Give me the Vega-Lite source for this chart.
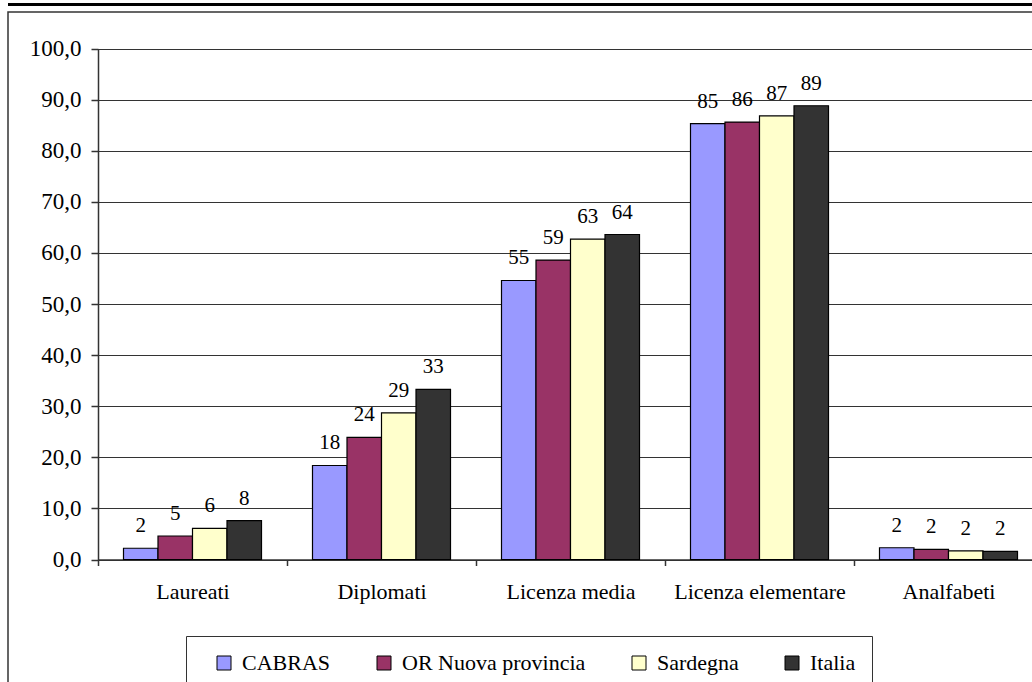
{
  "$schema": "https://vega.github.io/schema/vega-lite/v6.json",
  "width": 1044,
  "height": 690,
  "autosize": {"type": "none"},
  "padding": {"left": 8, "top": 12, "right": -20, "bottom": -20},
  "background": "white",
  "config": {
    "font": "Liberation Serif",
    "view": {"stroke": "#333", "strokeWidth": 1.5},
    "axis": {"labelFont": "Liberation Serif"},
    "legend": {"labelFont": "Liberation Serif"},
    "text": {"font": "Liberation Serif"}
  },
  "data": {
    "values": [
      {"livello": "Laureati", "area": "CABRAS", "valore": 2.2},
      {"livello": "Laureati", "area": "OR Nuova provincia", "valore": 4.6},
      {"livello": "Laureati", "area": "Sardegna", "valore": 6.1},
      {"livello": "Laureati", "area": "Italia", "valore": 7.6},
      {"livello": "Diplomati", "area": "CABRAS", "valore": 18.4},
      {"livello": "Diplomati", "area": "OR Nuova provincia", "valore": 23.9},
      {"livello": "Diplomati", "area": "Sardegna", "valore": 28.7},
      {"livello": "Diplomati", "area": "Italia", "valore": 33.3},
      {"livello": "Licenza media", "area": "CABRAS", "valore": 54.6},
      {"livello": "Licenza media", "area": "OR Nuova provincia", "valore": 58.6},
      {"livello": "Licenza media", "area": "Sardegna", "valore": 62.7},
      {"livello": "Licenza media", "area": "Italia", "valore": 63.6},
      {"livello": "Licenza elementare", "area": "CABRAS", "valore": 85.3},
      {"livello": "Licenza elementare", "area": "OR Nuova provincia", "valore": 85.6},
      {"livello": "Licenza elementare", "area": "Sardegna", "valore": 86.8},
      {"livello": "Licenza elementare", "area": "Italia", "valore": 88.8},
      {"livello": "Analfabeti", "area": "CABRAS", "valore": 2.3},
      {"livello": "Analfabeti", "area": "OR Nuova provincia", "valore": 2.0},
      {"livello": "Analfabeti", "area": "Sardegna", "valore": 1.7},
      {"livello": "Analfabeti", "area": "Italia", "valore": 1.6}
    ]
  },
  "encoding": {
    "x": {
      "field": "livello",
      "type": "nominal",
      "sort": ["Laureati", "Diplomati", "Licenza media", "Licenza elementare", "Analfabeti"],
      "scale": {"range": [90, 1035], "paddingInner": 0, "paddingOuter": 0},
      "axis": {
        "orient": "bottom",
        "offset": -142.5,
        "title": null,
        "grid": false,
        "labelAngle": 0,
        "labelFont": "Liberation Serif",
        "labelFontSize": 22,
        "labelColor": "#000",
        "labelPadding": 16,
        "labelLimit": 300,
        "tickSize": 6,
        "tickBand": "extent",
        "tickColor": "#333",
        "tickWidth": 1.5,
        "domainColor": "#333",
        "domainWidth": 1.5
      }
    },
    "xOffset": {
      "field": "area",
      "type": "nominal",
      "sort": ["CABRAS", "OR Nuova provincia", "Sardegna", "Italia"],
      "scale": {"paddingInner": 0, "paddingOuter": 0.739}
    },
    "y": {
      "field": "valore",
      "type": "quantitative",
      "scale": {"domain": [0, 100], "range": [547.5, 36.5], "nice": false, "zero": true},
      "axis": {
        "offset": -90,
        "title": null,
        "values": [0, 10, 20, 30, 40, 50, 60, 70, 80, 90, 100],
        "labelExpr": "replace(format(datum.value, '.1f'), '.', ',')",
        "labelFont": "Liberation Serif",
        "labelFontSize": 23,
        "labelColor": "#000",
        "labelPadding": 10,
        "tickSize": 7,
        "tickColor": "#333",
        "tickWidth": 1.5,
        "domainColor": "#333",
        "domainWidth": 1.5,
        "grid": true,
        "gridColor": "#333",
        "gridWidth": 1
      }
    }
  },
  "layer": [
    {
      "mark": {"type": "bar", "stroke": "#000", "strokeWidth": 1.2},
      "encoding": {
        "color": {
          "field": "area",
          "type": "nominal",
          "scale": {
            "domain": ["CABRAS", "OR Nuova provincia", "Sardegna", "Italia"],
            "range": ["#9999FF", "#993366", "#FFFFCC", "#333333"]
          },
          "legend": {
            "title": null,
            "orient": "none",
            "legendX": 178,
            "legendY": 624,
            "direction": "horizontal",
            "strokeColor": "#333",
            "fillColor": "white",
            "padding": 16,
            "symbolType": "square",
            "symbolSize": 196,
            "symbolStrokeColor": "#000",
            "symbolStrokeWidth": 1,
            "symbolOpacity": 1,
            "symbolOffset": 11,
            "labelFont": "Liberation Serif",
            "labelFontSize": 22,
            "labelColor": "#000",
            "labelLimit": 400,
            "labelOffset": 7,
            "columnPadding": 31
          }
        }
      }
    },
    {
      "mark": {"type": "text", "baseline": "alphabetic", "dy": -16, "fontSize": 21, "font": "Liberation Serif", "color": "#000"},
      "encoding": {
        "text": {"field": "valore", "type": "quantitative", "format": ".0f"}
      }
    },
    {
      "data": {"values": [{"bordo": 108.6}]},
      "mark": {"type": "rule", "color": "#000", "strokeWidth": 3},
      "encoding": {
        "x": null,
        "xOffset": null,
        "y": {"field": "bordo", "type": "quantitative"}
      }
    }
  ]
}
